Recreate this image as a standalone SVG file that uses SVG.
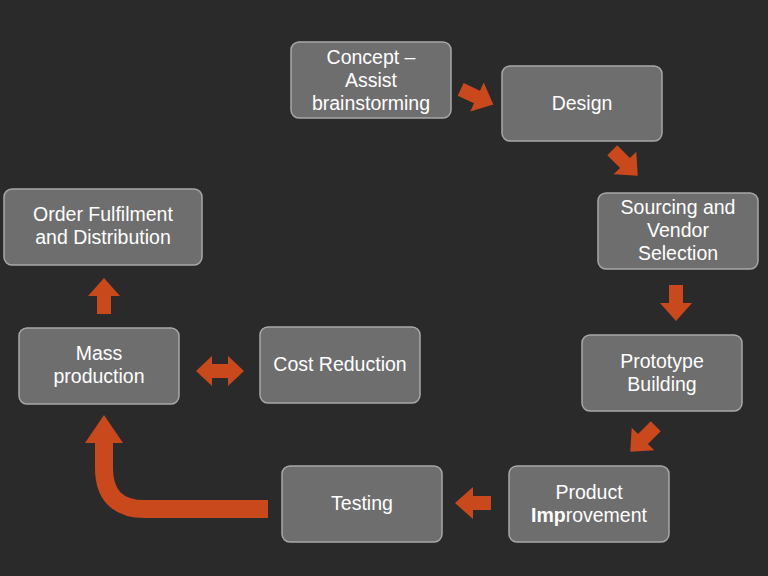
<svg xmlns="http://www.w3.org/2000/svg" width="768" height="576" viewBox="0 0 768 576">
<style>
.b{fill:#6e6e6e;stroke:#a8a8a8;stroke-width:1.5}
.t{font-family:"Liberation Sans",Arial,sans-serif;font-size:19.5px;fill:#fff;text-anchor:middle}
.a{fill:#c9491c}
</style>
<defs>
<path id="ba" class="a" d="M-18,-7 H0 V-16 L18,0 L0,16 V7 H-18 Z"/>
</defs>
<rect width="768" height="576" fill="#2a2a2a"/>
<g id="concept"><rect class="b" x="291" y="42" width="160" height="76" rx="8"/><text class="t"><tspan x="371" y="64">Concept –</tspan><tspan x="371" y="87">Assist</tspan><tspan x="371" y="110">brainstorming</tspan></text></g>
<g id="design"><rect class="b" x="502" y="66" width="160" height="75" rx="8"/><text class="t" x="582" y="110">Design</text></g>
<g id="sourcing"><rect class="b" x="598" y="193" width="160" height="76" rx="8"/><text class="t"><tspan x="678" y="214">Sourcing and</tspan><tspan x="678" y="237">Vendor</tspan><tspan x="678" y="260">Selection</tspan></text></g>
<g id="prototype"><rect class="b" x="582" y="335" width="160" height="76" rx="8"/><text class="t"><tspan x="662" y="368">Prototype</tspan><tspan x="662" y="391">Building</tspan></text></g>
<g id="product"><rect class="b" x="509" y="466" width="160" height="76" rx="8"/><text class="t"><tspan x="589" y="499">Product</tspan><tspan x="589" y="522"><tspan font-weight="bold">Imp</tspan>rovement</tspan></text></g>
<g id="testing"><rect class="b" x="282" y="466" width="160" height="76" rx="8"/><text class="t" x="362" y="510">Testing</text></g>
<g id="cost"><rect class="b" x="260" y="327" width="160" height="76" rx="8"/><text class="t" x="340" y="371">Cost Reduction</text></g>
<g id="mass"><rect class="b" x="19" y="328" width="160" height="76" rx="8"/><text class="t"><tspan x="99" y="360">Mass</tspan><tspan x="99" y="383">production</tspan></text></g>
<g id="order"><rect class="b" x="4" y="189" width="198" height="76" rx="8"/><text class="t"><tspan x="103" y="221">Order Fulfilment</tspan><tspan x="103" y="244">and Distribution</tspan></text></g>
<g id="connectors">
<use href="#ba" transform="translate(477,97) rotate(25)"/>
<use href="#ba" transform="translate(625,163) rotate(45)"/>
<use href="#ba" transform="translate(676,303) rotate(90)"/>
<use href="#ba" transform="translate(643,439) rotate(135)"/>
<use href="#ba" transform="translate(473,503) rotate(180)"/>
<use href="#ba" transform="translate(104,296) rotate(-90)"/>
<path class="a" d="M196,371 L212,356 V364 H228 V356 L244,371 L228,386 V378 H212 V386 Z"/>
<path d="M268,509 H145 Q104,509 104,468 V440" fill="none" stroke="#c9491c" stroke-width="18"/>
<path class="a" d="M85,443 L104,415 L123,443 Z"/>
</g>
</svg>
